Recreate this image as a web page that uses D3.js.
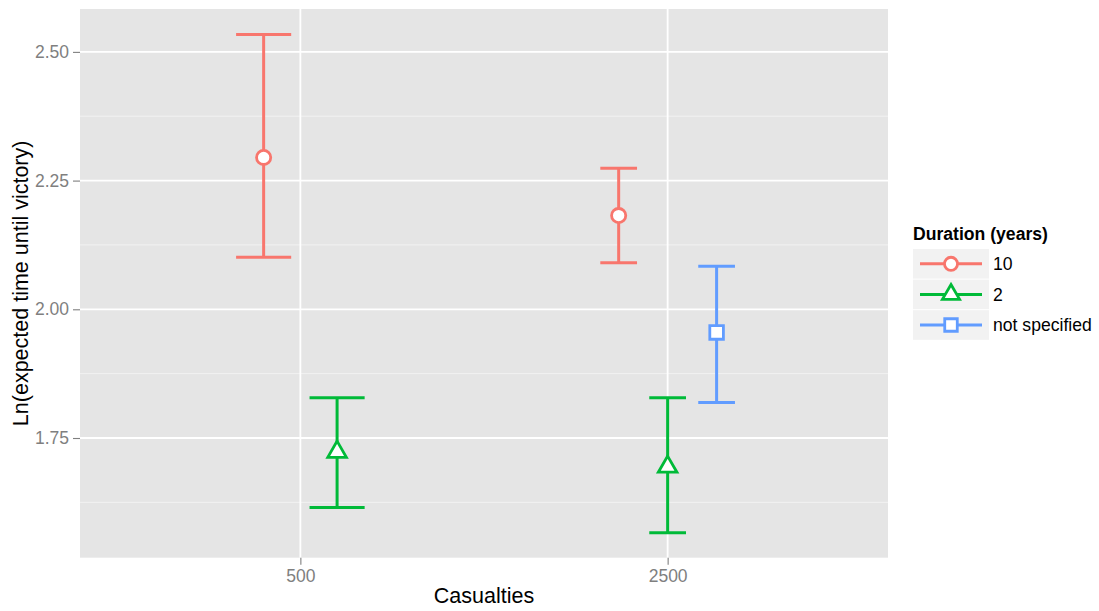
<!DOCTYPE html>
<html>
<head>
<meta charset="utf-8">
<script src="https://cdn.jsdelivr.net/npm/d3@7"></script>
<style>
  body { margin: 0; background: #fff; }
  text { font-family: "Liberation Sans", Arial, sans-serif; }
</style>
</head>
<body>
<svg id="chart" width="1099" height="611"></svg>
<script>
// data
const casualties = ["500", "2500"];
const durations = ["10", "2", "not specified"];
const groupCasualties = ["500", "500", "2500", "2500", "2500"];
const groupDuration = ["10", "2", "10", "2", "not specified"];
const meanValues = [2.295, 1.723, 2.182, 1.694, 1.955];
const lowerValues = [2.101, 1.615, 2.0905, 1.566, 1.819];
const upperValues = [2.534, 1.828, 2.274, 1.828, 2.0835];
const yTicks = [1.75, 2.00, 2.25, 2.50];
const yMinor = [1.625, 1.875, 2.125, 2.375];

const colors = { "10": "#F8766D", "2": "#00BA38", "not specified": "#619CFF" };
const shapes = { "10": d3.symbolCircle, "2": d3.symbolTriangle, "not specified": d3.symbolSquare };

const svg = d3.select('#chart');
const panel = { left: 80, right: 888, top: 9, bottom: 557.7 };

const x = d3.scalePoint()
  .domain(casualties)
  .range([panel.left, panel.right])
  .padding(0.6);

const y = d3.scaleLinear()
  .domain([1.5175, 2.5833])
  .range([panel.bottom, panel.top]);

const dodgeWidth = 0.4, barWidth = 0.3;

// rows, with dodge position
const rows = groupCasualties.map((c, i) => ({
  cas: c, dur: groupDuration[i], mean: meanValues[i], lo: lowerValues[i], hi: upperValues[i]
}));
rows.forEach(r => {
  const same = rows.filter(o => o.cas === r.cas);
  const n = same.length, k = same.indexOf(r);
  const w = dodgeWidth / n;
  r.cx = x(r.cas) + (-dodgeWidth / 2 + w * (k + 0.5)) * x.step();
  r.half = (barWidth / n / 2) * x.step();
});

// panel
svg.append('rect')
  .attr('x', panel.left).attr('y', panel.top)
  .attr('width', panel.right - panel.left).attr('height', panel.bottom - panel.top)
  .attr('fill', '#E5E5E5');

svg.append('g').selectAll('line').data(yMinor).join('line')
  .attr('x1', panel.left).attr('x2', panel.right)
  .attr('y1', d => y(d)).attr('y2', d => y(d))
  .attr('stroke', '#F2F2F2').attr('stroke-width', 1);

svg.append('g').selectAll('line').data(yTicks).join('line')
  .attr('x1', panel.left).attr('x2', panel.right)
  .attr('y1', d => y(d)).attr('y2', d => y(d))
  .attr('stroke', '#fff').attr('stroke-width', 1.8);

svg.append('g').selectAll('line').data(casualties).join('line')
  .attr('y1', panel.top).attr('y2', panel.bottom)
  .attr('x1', d => x(d)).attr('x2', d => x(d))
  .attr('stroke', '#fff').attr('stroke-width', 1.8);

// axes
const yAxis = svg.append('g')
  .attr('transform', `translate(${panel.left},0)`)
  .call(d3.axisLeft(y).tickValues(yTicks).tickFormat(d3.format('.2f')).tickSize(7).tickPadding(4));
const xAxis = svg.append('g')
  .attr('transform', `translate(0,${panel.bottom})`)
  .call(d3.axisBottom(x).tickSize(7).tickPadding(5));
[yAxis, xAxis].forEach(a => {
  a.select('.domain').remove();
  a.selectAll('.tick line').attr('stroke', '#7F7F7F').attr('stroke-width', 1.1);
  a.selectAll('.tick text').attr('fill', '#7F7F7F').style('font-size', '17.5px')
    .style('font-family', '"Liberation Sans", Arial, sans-serif');
});

// axis titles
svg.append('text')
  .attr('x', (panel.left + panel.right) / 2).attr('y', 603)
  .attr('text-anchor', 'middle').style('font-size', '21.5px')
  .text('Casualties');
svg.append('text')
  .attr('transform', `translate(28,${(panel.top + panel.bottom) / 2}) rotate(-90)`)
  .attr('text-anchor', 'middle').style('font-size', '21.5px')
  .text('Ln(expected time until victory)');

// error bars
const bars = svg.append('g').selectAll('g').data(rows).join('g')
  .attr('stroke', d => colors[d.dur]).attr('stroke-width', 3).attr('fill', 'none');
bars.append('line')
  .attr('x1', d => d.cx).attr('x2', d => d.cx)
  .attr('y1', d => y(d.lo)).attr('y2', d => y(d.hi));
bars.append('line')
  .attr('x1', d => d.cx - d.half).attr('x2', d => d.cx + d.half)
  .attr('y1', d => y(d.hi)).attr('y2', d => y(d.hi));
bars.append('line')
  .attr('x1', d => d.cx - d.half).attr('x2', d => d.cx + d.half)
  .attr('y1', d => y(d.lo)).attr('y2', d => y(d.lo));

const symSize = { "10": 158, "2": 150, "not specified": 185 };
svg.append('g').selectAll('path').data(rows).join('path')
  .attr('transform', d => `translate(${d.cx},${y(d.mean)})`)
  .attr('d', d => d3.symbol(shapes[d.dur], symSize[d.dur])())
  .attr('fill', '#fff').attr('stroke', d => colors[d.dur]).attr('stroke-width', 2.8);

// legend
const lg = svg.append('g').attr('transform', 'translate(913,0)');
lg.append('text').attr('x', 0).attr('y', 240)
  .style('font-size', '17.6px').style('font-weight', 'bold')
  .text('Duration (years)');
const keyH = 29.6, keyTop = 249;
const items = lg.selectAll('g.key').data(durations).join('g')
  .attr('class', 'key')
  .attr('transform', (d, i) => `translate(0,${keyTop + i * (keyH + 1)})`);
items.append('rect').attr('width', 76).attr('height', keyH).attr('fill', '#F2F2F2');
items.append('line')
  .attr('x1', 7).attr('x2', 69).attr('y1', keyH / 2).attr('y2', keyH / 2)
  .attr('stroke', d => colors[d]).attr('stroke-width', 3);
items.append('path')
  .attr('transform', `translate(38,${keyH / 2})`)
  .attr('d', d => d3.symbol(shapes[d], symSize[d] * 0.85)())
  .attr('fill', '#fff').attr('stroke', d => colors[d]).attr('stroke-width', 2.8);
items.append('text')
  .attr('x', 80).attr('y', keyH / 2 + 6.3)
  .style('font-size', '17.6px')
  .text(d => d);
</script>
</body>
</html>
